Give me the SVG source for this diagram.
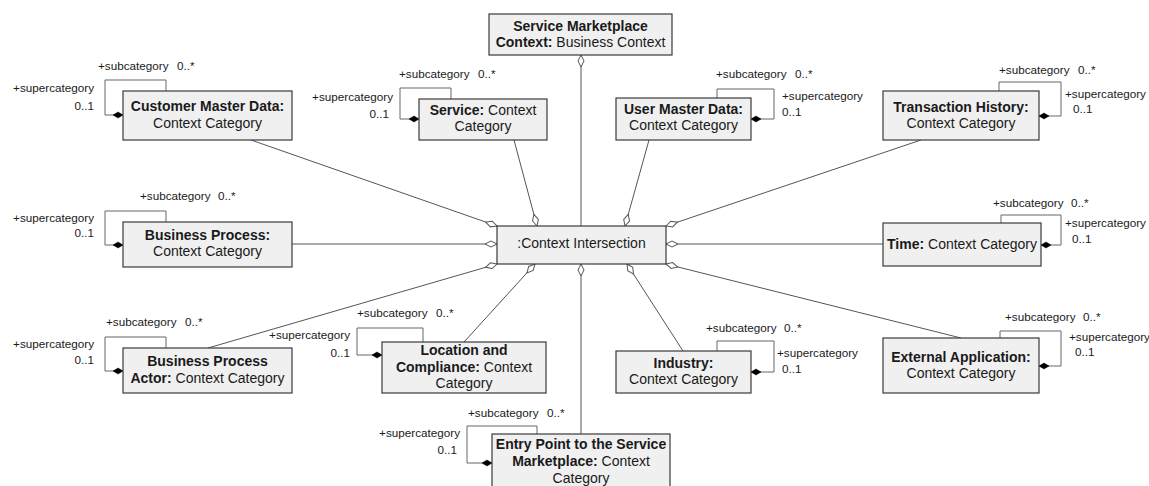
<svg xmlns="http://www.w3.org/2000/svg" width="1149" height="486" viewBox="0 0 1149 486">
<style>
.box{fill:#f0f0f0;stroke:#3a3a3a;stroke-width:1.2}
.t{font-family:"Liberation Sans",Arial,sans-serif;font-size:14px;fill:#1a1a1a;text-anchor:middle}
.b{font-weight:bold}
.lbl{font-family:"Liberation Sans",Arial,sans-serif;font-size:11.7px;fill:#1a1a1a}
.e{text-anchor:end}
.conn{fill:none;stroke:#555;stroke-width:1;marker-start:url(#hd)}
.loop{fill:none;stroke:#666;stroke-width:1;marker-start:url(#fd)}
</style>
<defs>
<marker id="hd" markerUnits="userSpaceOnUse" markerWidth="14" markerHeight="8" refX="0" refY="4" orient="auto" viewBox="0 0 14 8" overflow="visible">
<path d="M0,4 L6,1 L12,4 L6,7 Z" fill="#fff" stroke="#555" stroke-width="1"/>
</marker>
<marker id="fd" markerUnits="userSpaceOnUse" markerWidth="12" markerHeight="8" refX="0" refY="4" orient="auto" viewBox="0 0 12 8" overflow="visible">
<path d="M0,4 L5,1 L10,4 L5,7 Z" fill="#000" stroke="#000" stroke-width="0.5"/>
</marker>
</defs>

<g id="connectors">
<path class="conn" d="M581,55 L581,226"/>
<path class="conn" d="M497,226 L251,140"/>
<path class="conn" d="M537,226 L514,140"/>
<path class="conn" d="M625,226 L649,140"/>
<path class="conn" d="M666,226 L921,140"/>
<path class="conn" d="M497,244 L292,244"/>
<path class="conn" d="M666,244 L883,244"/>
<path class="conn" d="M497,264 L208,348"/>
<path class="conn" d="M535,264 L464,342"/>
<path class="conn" d="M581,264 L581,434"/>
<path class="conn" d="M627,264 L683,351"/>
<path class="conn" d="M666,264 L961,338"/>
<path class="loop" d="M123,115 L105,115 L105,80 L166,80 L166,91"/>
<path class="loop" d="M419,119 L400,119 L400,88 L451,88 L451,99"/>
<path class="loop" d="M751,119 L774,119 L774,89 L717,89 L717,98"/>
<path class="loop" d="M1039,116 L1061,116 L1061,82 L999,82 L999,91"/>
<path class="loop" d="M123,245 L105,245 L105,211 L166,211 L166,222"/>
<path class="loop" d="M1041,245 L1061,245 L1061,215 L1001,215 L1001,223"/>
<path class="loop" d="M123,371 L105,371 L105,337 L166,337 L166,348"/>
<path class="loop" d="M382,355 L357,355 L357,328 L423,328 L423,342"/>
<path class="loop" d="M492,463 L467,463 L467,426 L537,426 L537,434"/>
<path class="loop" d="M751,372 L774,372 L774,341 L717,341 L717,351"/>
<path class="loop" d="M1039,366 L1061,366 L1061,331 L1000,331 L1000,338"/>
</g>

<g id="smc">
<rect class="box" x="489" y="14" width="183" height="41"/>
<text class="t b" x="580.5" y="31">Service Marketplace</text>
<text class="t" x="580.5" y="47"><tspan class="b">Context:</tspan> Business Context</text>
</g>

<g id="ci">
<rect class="box" x="497" y="226" width="169" height="38"/>
<text class="t" x="581.5" y="248">:Context Intersection</text>
</g>

<g id="cmd">
<rect class="box" x="123" y="91" width="169" height="49"/>
<text class="t b" x="207.5" y="111">Customer Master Data:</text>
<text class="t" x="207.5" y="128">Context Category</text>
<text class="lbl" x="98" y="70">+subcategory</text><text class="lbl" x="177" y="70">0..*</text>
<text class="lbl e" x="94" y="92">+supercategory</text><text class="lbl e" x="94" y="110">0..1</text>
</g>

<g id="service">
<rect class="box" x="419" y="99" width="128" height="41"/>
<text class="t" x="483" y="115"><tspan class="b">Service:</tspan> Context</text>
<text class="t" x="483" y="131">Category</text>
<text class="lbl" x="399" y="78">+subcategory</text><text class="lbl" x="478" y="78">0..*</text>
<text class="lbl e" x="393" y="101">+supercategory</text><text class="lbl e" x="389" y="118">0..1</text>
</g>

<g id="umd">
<rect class="box" x="616" y="98" width="135" height="42"/>
<text class="t b" x="683.5" y="114">User Master Data:</text>
<text class="t" x="683.5" y="130">Context Category</text>
<text class="lbl" x="716" y="78">+subcategory</text><text class="lbl" x="795" y="78">0..*</text>
<text class="lbl" x="782" y="100">+supercategory</text><text class="lbl" x="782" y="116">0..1</text>
</g>

<g id="th">
<rect class="box" x="883" y="91" width="156" height="49"/>
<text class="t b" x="961" y="112">Transaction History:</text>
<text class="t" x="961" y="128">Context Category</text>
<text class="lbl" x="999" y="74">+subcategory</text><text class="lbl" x="1078" y="74">0..*</text>
<text class="lbl" x="1065" y="98">+supercategory</text><text class="lbl" x="1073" y="113">0..1</text>
</g>

<g id="bp">
<rect class="box" x="123" y="222" width="169" height="45"/>
<text class="t b" x="207.5" y="240">Business Process:</text>
<text class="t" x="207.5" y="256">Context Category</text>
<text class="lbl" x="140" y="200">+subcategory</text><text class="lbl" x="218" y="200">0..*</text>
<text class="lbl e" x="94" y="222">+supercategory</text><text class="lbl e" x="94" y="237">0..1</text>
</g>

<g id="time">
<rect class="box" x="883" y="223" width="158" height="43"/>
<text class="t" x="962" y="249"><tspan class="b">Time:</tspan> Context Category</text>
<text class="lbl" x="993" y="207">+subcategory</text><text class="lbl" x="1071" y="207">0..*</text>
<text class="lbl" x="1065" y="227">+supercategory</text><text class="lbl" x="1072" y="243">0..1</text>
</g>

<g id="bpa">
<rect class="box" x="123" y="348" width="169" height="45"/>
<text class="t b" x="207.5" y="366">Business Process</text>
<text class="t" x="207.5" y="383"><tspan class="b">Actor:</tspan> Context Category</text>
<text class="lbl" x="106" y="326">+subcategory</text><text class="lbl" x="185" y="326">0..*</text>
<text class="lbl e" x="94" y="348">+supercategory</text><text class="lbl e" x="94" y="364">0..1</text>
</g>

<g id="loc">
<rect class="box" x="382" y="342" width="164" height="51"/>
<text class="t b" x="464" y="355">Location and</text>
<text class="t" x="464" y="372"><tspan class="b">Compliance:</tspan> Context</text>
<text class="t" x="464" y="388">Category</text>
<text class="lbl" x="357" y="317">+subcategory</text><text class="lbl" x="436" y="317">0..*</text>
<text class="lbl e" x="350" y="339">+supercategory</text><text class="lbl e" x="350" y="357">0..1</text>
</g>

<g id="entry">
<rect class="box" x="492" y="434" width="178" height="58"/>
<text class="t b" x="581" y="449">Entry Point to the Service</text>
<text class="t" x="581" y="466"><tspan class="b">Marketplace:</tspan> Context</text>
<text class="t" x="581" y="483">Category</text>
<text class="lbl" x="468" y="417">+subcategory</text><text class="lbl" x="547" y="417">0..*</text>
<text class="lbl e" x="460" y="437">+supercategory</text><text class="lbl e" x="457" y="454">0..1</text>
</g>

<g id="industry">
<rect class="box" x="616" y="351" width="135" height="42"/>
<text class="t b" x="683.5" y="368">Industry:</text>
<text class="t" x="683.5" y="384">Context Category</text>
<text class="lbl" x="706" y="332">+subcategory</text><text class="lbl" x="784" y="332">0..*</text>
<text class="lbl" x="777" y="357">+supercategory</text><text class="lbl" x="782" y="373">0..1</text>
</g>

<g id="ext">
<rect class="box" x="883" y="338" width="156" height="55"/>
<text class="t b" x="961" y="362">External Application:</text>
<text class="t" x="961" y="378">Context Category</text>
<text class="lbl" x="1005" y="321">+subcategory</text><text class="lbl" x="1083" y="321">0..*</text>
<text class="lbl" x="1069" y="341">+supercategory</text><text class="lbl" x="1075" y="356">0..1</text>
</g>
</svg>
